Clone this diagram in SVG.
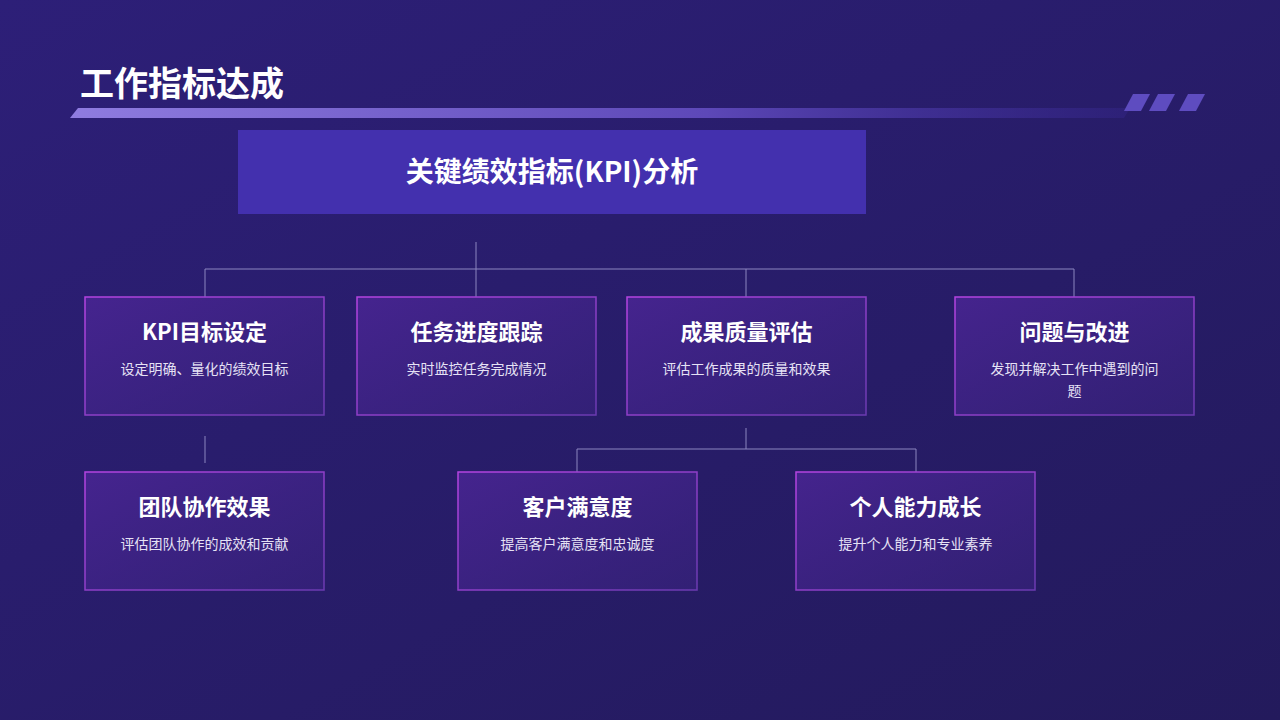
<svg xmlns="http://www.w3.org/2000/svg" width="1280" height="720" viewBox="0 0 1280 720">
<defs>
<linearGradient id="bg" x1="0" y1="0" x2="1" y2="1"><stop offset="0" stop-color="#2d1f78"/><stop offset="1" stop-color="#231a5c"/></linearGradient>
<linearGradient id="bar" x1="0" y1="0" x2="1" y2="0"><stop offset="0" stop-color="#8f7ce0"/><stop offset="0.6" stop-color="#5d48b8"/><stop offset="1" stop-color="#3a2a98" stop-opacity="0.3"/></linearGradient>
<linearGradient id="bf" x1="0" y1="0" x2="1" y2="1"><stop offset="0" stop-color="#4a2594" stop-opacity="0.85"/><stop offset="1" stop-color="#3a2380" stop-opacity="0.6"/></linearGradient>
<linearGradient id="bs" x1="0" y1="0" x2="1" y2="1"><stop offset="0" stop-color="#b443e0"/><stop offset="1" stop-color="#6a3ab0"/></linearGradient>
<style>
.box{fill:url(#bf);stroke:url(#bs);stroke-width:1.5}
.t{font-family:"Noto Sans CJK SC","Noto Sans",sans-serif;fill:#fff;text-anchor:middle;font-weight:700;font-size:22px}
.s{font-family:"Noto Sans CJK SC","Noto Sans",sans-serif;fill:#e6e2f5;text-anchor:middle;font-size:14px}
.c{stroke:#8c86c0;stroke-width:1;fill:none}
</style>
</defs>
<rect width="1280" height="720" fill="url(#bg)"/>
<text x="80" y="96" font-family="Noto Sans CJK SC,sans-serif" font-size="34" font-weight="700" fill="#fff">工作指标达成</text>
<polygon points="78,108 1130,108 1124,118 70,118" fill="url(#bar)"/>
<g fill="#5e4cc0"><polygon points="1133,94 1150,94 1141,111 1124,111"/><polygon points="1158,94 1175,94 1166,111 1149,111"/><polygon points="1188,94 1205,94 1196,111 1179,111"/></g>
<g id="header"><rect x="238" y="130" width="628" height="84" fill="#4330ae"/><text class="t" x="552" y="182" font-size="28" style="font-size:28px">关键绩效指标(KPI)分析</text></g>
<g id="connectors" class="c">
<path d="M476 242V269M205 269H1074M205 269V297M476 269V297M746 269V297M1074 269V297"/>
<path d="M205 436V463"/>
<path d="M746 428V449M577 449H916M577 449V472M916 449V472"/>
</g>
<g id="n1"><rect class="box" x="85" y="297" width="239" height="118"/><text class="t" x="204.5" y="340">KPI目标设定</text><text class="s" x="204.5" y="374">设定明确、量化的绩效目标</text></g>
<g id="n2"><rect class="box" x="357" y="297" width="239" height="118"/><text class="t" x="476.5" y="340">任务进度跟踪</text><text class="s" x="476.5" y="374">实时监控任务完成情况</text></g>
<g id="n3"><rect class="box" x="627" y="297" width="239" height="118"/><text class="t" x="746.5" y="340">成果质量评估</text><text class="s" x="746.5" y="374">评估工作成果的质量和效果</text></g>
<g id="n4"><rect class="box" x="955" y="297" width="239" height="118"/><text class="t" x="1074.5" y="340">问题与改进</text><text class="s" x="1074.5" y="374">发现并解决工作中遇到的问</text><text class="s" x="1074.5" y="396">题</text></g>
<g id="n5"><rect class="box" x="85" y="472" width="239" height="118"/><text class="t" x="204.5" y="515">团队协作效果</text><text class="s" x="204.5" y="549">评估团队协作的成效和贡献</text></g>
<g id="n6"><rect class="box" x="458" y="472" width="239" height="118"/><text class="t" x="577.5" y="515">客户满意度</text><text class="s" x="577.5" y="549">提高客户满意度和忠诚度</text></g>
<g id="n7"><rect class="box" x="796" y="472" width="239" height="118"/><text class="t" x="915.5" y="515">个人能力成长</text><text class="s" x="915.5" y="549">提升个人能力和专业素养</text></g>
</svg>
